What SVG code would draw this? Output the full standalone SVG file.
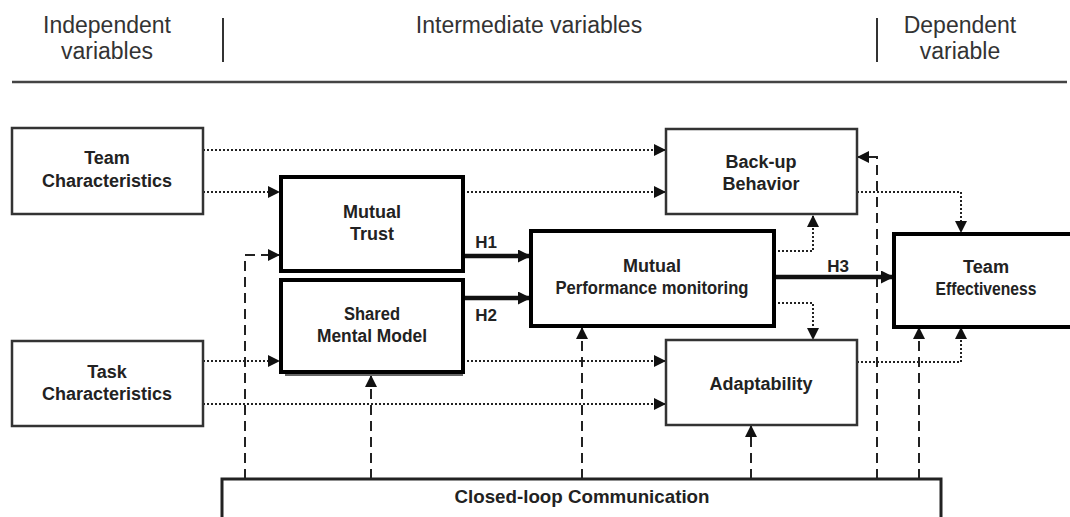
<svg xmlns="http://www.w3.org/2000/svg" width="1070" height="517" viewBox="0 0 1070 517">
  <style>
    .hdr { font-family: "Liberation Sans", Arial, sans-serif; font-size: 23px; fill: #333; text-anchor: middle; }
    .lbl { font-family: "Liberation Sans", Arial, sans-serif; font-size: 18px; font-weight: bold; fill: #222; text-anchor: middle; }
    .hyp { font-family: "Liberation Sans", Arial, sans-serif; font-size: 17px; font-weight: bold; fill: #222; text-anchor: middle; }
    .box { fill: #fff; stroke: #333; stroke-width: 2.5; }
    .core { fill: #fff; stroke: #000; stroke-width: 4; }
    .dot { fill: none; stroke: #222; stroke-width: 2; stroke-dasharray: 2 2; }
    .dash { fill: none; stroke: #222; stroke-width: 2; stroke-dasharray: 10 6; }
    .hyp-line { fill: none; stroke: #111; stroke-width: 4.5; }
    .rule { stroke: #333; stroke-width: 2; }
  </style>
  <defs>
    <marker id="ah" viewBox="0 0 10 10" refX="10" refY="5" markerWidth="12" markerHeight="12" markerUnits="userSpaceOnUse" orient="auto">
      <path d="M0,0 L10,5 L0,10 Z" fill="#111" stroke="none"/>
    </marker>
    <marker id="ahb" viewBox="0 0 10 10" refX="10" refY="5" markerWidth="13" markerHeight="13" markerUnits="userSpaceOnUse" orient="auto">
      <path d="M0,0 L10,5 L0,10 Z" fill="#111" stroke="none"/>
    </marker>
  </defs>

  <rect width="1070" height="517" fill="#fff"/>

  <!-- column headings -->
  <g id="headings">
    <text class="hdr" x="107" y="33">Independent</text>
    <text class="hdr" x="107" y="59">variables</text>
    <text class="hdr" x="529" y="33">Intermediate variables</text>
    <text class="hdr" x="960" y="33">Dependent</text>
    <text class="hdr" x="960" y="59">variable</text>
    <line class="rule" x1="223" y1="18" x2="223" y2="62"/>
    <line class="rule" x1="877" y1="18" x2="877" y2="62"/>
    <line x1="12" y1="82" x2="1067" y2="82" stroke="#444" stroke-width="2.5"/>
  </g>

  <!-- connectors -->
  <g id="connectors">
    <!-- dotted: direct effects -->
    <path class="dot" d="M203,150 H666" marker-end="url(#ah)"/>
    <path class="dot" d="M203,192 H280" marker-end="url(#ah)"/>
    <path class="dot" d="M463,192 H666" marker-end="url(#ah)"/>
    <path class="dot" d="M203,361 H280" marker-end="url(#ah)"/>
    <path class="dot" d="M463,361 H666" marker-end="url(#ah)"/>
    <path class="dot" d="M203,404 H666" marker-end="url(#ah)"/>
    <path class="dot" d="M774,251 H813 V215" marker-end="url(#ah)"/>
    <path class="dot" d="M774,303 H813 V340" marker-end="url(#ah)"/>
    <path class="dot" d="M857,192 H961 V233" marker-end="url(#ah)"/>
    <path class="dot" d="M857,362 H961 V327" marker-end="url(#ah)"/>

    <!-- dashed: communication links -->
    <path class="dash" d="M245,479 V255 H280" marker-end="url(#ah)"/>
    <path class="dash" d="M371,479 V375" marker-end="url(#ah)"/>
    <path class="dash" d="M582,479 V327" marker-end="url(#ah)"/>
    <path class="dash" d="M751,479 V425" marker-end="url(#ah)"/>
    <path class="dash" d="M877,479 V157 H857" marker-end="url(#ah)"/>
    <path class="dash" d="M919,479 V327" marker-end="url(#ah)"/>

    <!-- solid: hypotheses -->
    <path class="hyp-line" d="M463,256 H531" marker-end="url(#ahb)"/>
    <path class="hyp-line" d="M463,298 H531" marker-end="url(#ahb)"/>
    <path class="hyp-line" d="M774,277 H894" marker-end="url(#ahb)"/>
    <text class="hyp" x="486" y="248">H1</text>
    <text class="hyp" x="486" y="321">H2</text>
    <text class="hyp" x="838" y="272">H3</text>
  </g>

  <g id="team-characteristics">
    <rect class="box" x="12" y="128" width="191" height="86"/>
    <text class="lbl" x="107" y="164">Team</text>
    <text class="lbl" x="107" y="187">Characteristics</text>
  </g>

  <g id="task-characteristics">
    <rect class="box" x="12" y="341" width="191" height="85"/>
    <text class="lbl" x="107" y="378">Task</text>
    <text class="lbl" x="107" y="400">Characteristics</text>
  </g>

  <g id="mutual-trust">
    <rect class="core" x="281" y="177" width="182" height="94"/>
    <text class="lbl" x="372" y="218">Mutual</text>
    <text class="lbl" x="372" y="240">Trust</text>
  </g>

  <g id="shared-mental-model">
    <line x1="285" y1="375" x2="463" y2="375" stroke="#666" stroke-width="2"/>
    <rect class="core" x="281" y="280" width="182" height="92"/>
    <text class="lbl" x="372" y="320" textLength="56" lengthAdjust="spacingAndGlyphs">Shared</text>
    <text class="lbl" x="372" y="342" textLength="110" lengthAdjust="spacingAndGlyphs">Mental Model</text>
  </g>

  <g id="mutual-performance-monitoring">
    <rect class="core" x="531" y="231" width="243" height="95"/>
    <text class="lbl" x="652" y="272">Mutual</text>
    <text class="lbl" x="652" y="294" textLength="193" lengthAdjust="spacingAndGlyphs">Performance monitoring</text>
  </g>

  <g id="back-up-behavior">
    <rect class="box" x="666" y="129" width="191" height="85"/>
    <text class="lbl" x="761" y="168">Back-up</text>
    <text class="lbl" x="761" y="190">Behavior</text>
  </g>

  <g id="adaptability">
    <rect class="box" x="666" y="340" width="191" height="85"/>
    <text class="lbl" x="761" y="390">Adaptability</text>
  </g>

  <g id="team-effectiveness">
    <rect class="core" x="894" y="234" width="190" height="93"/>
    <text class="lbl" x="986" y="273" textLength="46" lengthAdjust="spacingAndGlyphs">Team</text>
    <text class="lbl" x="986" y="295" textLength="101" lengthAdjust="spacingAndGlyphs">Effectiveness</text>
  </g>

  <g id="closed-loop-communication">
    <rect x="222" y="479" width="719" height="60" fill="#fff" stroke="#222" stroke-width="3"/>
    <text class="lbl" x="582" y="503" style="font-size:19px" textLength="255" lengthAdjust="spacingAndGlyphs">Closed-loop Communication</text>
  </g>
</svg>
